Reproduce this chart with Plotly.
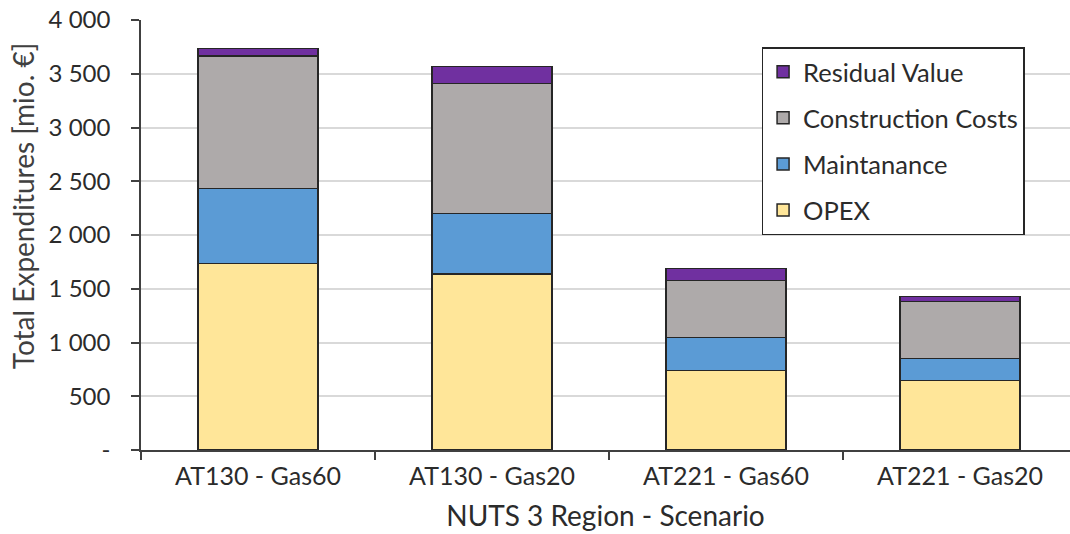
import plotly.graph_objects as go

categories = ["AT130 - Gas60", "AT130 - Gas20", "AT221 - Gas60", "AT221 - Gas20"]
opex = [1737, 1637, 741, 645]
maintenance = [697, 561, 307, 208]
construction = [1229, 1213, 531, 530]
residual = [74, 155, 111, 43]

y_tickvals = [0, 500, 1000, 1500, 2000, 2500, 3000, 3500, 4000]
y_ticktext = ["-", "500", "1 000", "1 500", "2 000", "2 500", "3 000", "3 500", "4 000"]

series = [
    ("OPEX", opex, "#FFE699", 4),
    ("Maintanance", maintenance, "#5B9BD5", 3),
    ("Construction Costs", construction, "#AEAAAA", 2),
    ("Residual Value", residual, "#7030A0", 1),
]

FONT = "Lato, Carlito, Liberation Sans, sans-serif"
TXT = "#2b2b2b"

fig = go.Figure()
for name, vals, col, rank in series:
    fig.add_trace(go.Bar(
        x=categories, y=vals, name=name, legendgroup=name, legendrank=rank,
        marker=dict(color=col, line=dict(color="#262626", width=1.5)),
    ))

fig.add_annotation(
    text="Total Expenditures [mio. €]", textangle=-90,
    xref="paper", yref="paper", x=-0.127, y=0.567,
    xanchor="center", yanchor="middle", showarrow=False,
    font=dict(family=FONT, size=28, color="#404040"),
)

fig.update_layout(
    width=1070, height=534,
    barmode="stack", bargap=0.487,
    plot_bgcolor="white", paper_bgcolor="white",
    margin=dict(l=141, r=0, t=20, b=84),
    font=dict(family=FONT, size=24, color=TXT),
    legend=dict(
        x=0.668, y=0.937, xanchor="left", yanchor="top",
        traceorder="grouped", tracegroupgap=10,
        bordercolor="#262626", borderwidth=1.5, bgcolor="white",
        font=dict(family=FONT, size=25.5, color=TXT),
    ),
    xaxis=dict(
        range=[-0.5, 3.47], automargin=False,
        showline=True, linecolor="#404040", linewidth=1.5,
        ticks="outside", tickson="boundaries", ticklen=8, tickcolor="#404040", tickwidth=1.5,
        tickfont=dict(size=25, color=TXT), ticklabelstandoff=3,
        title=dict(text="NUTS 3 Region - Scenario", font=dict(size=28, color=TXT), standoff=18),
        showgrid=False,
    ),
    yaxis=dict(
        range=[0, 4000], automargin=False,
        tickvals=y_tickvals, ticktext=y_ticktext,
        showline=True, linecolor="#404040", linewidth=1.5,
        ticks="outside", ticklen=8, tickcolor="#404040", tickwidth=1.5,
        tickfont=dict(size=24, color=TXT), ticklabelstandoff=16,
        ticklabeloverflow="allow",
        showgrid=True, gridcolor="#D9D9D9", gridwidth=1.5,
        zeroline=False,
    ),
)

fig.write_html("out.html", config={"displayModeBar": False},
               post_script="document.body.style.margin='0';")
